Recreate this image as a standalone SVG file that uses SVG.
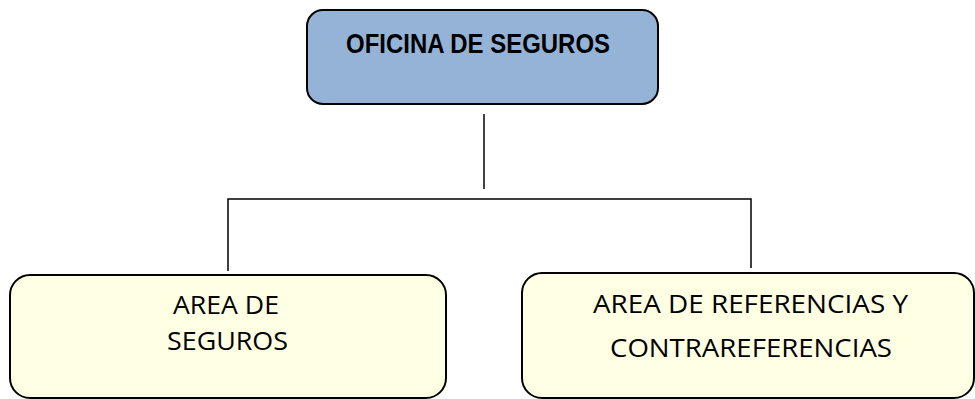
<svg xmlns="http://www.w3.org/2000/svg" width="975" height="399" viewBox="0 0 975 399">
  <style>
    .box { stroke: #000; stroke-width: 2; }
    .top { fill: #95B3D7; }
    .sub { fill: #FFFFE3; }
    .t1 { font-family: "Liberation Sans", Arial, sans-serif; font-weight: bold; font-size: 28px; fill: #000; }
    .t2 { font-family: "Open Sans", "Liberation Sans", sans-serif; font-size: 25.5px; fill: #000; }
    .conn { stroke: #000; stroke-width: 1.5; fill: none; }
  </style>
  <rect width="975" height="399" fill="#fff"/>
  <g id="connectors">
    <line class="conn" x1="484" y1="114" x2="484" y2="189"/>
    <polyline class="conn" points="228,271 228,199 751,199 751,268"/>
  </g>
  <g id="oficina">
    <rect class="box top" x="307" y="10" width="351" height="94" rx="16" ry="16"/>
    <text class="t1" x="478" y="53" text-anchor="middle" textLength="264" lengthAdjust="spacingAndGlyphs">OFICINA DE SEGUROS</text>
  </g>
  <g id="area-seguros">
    <rect class="box sub" x="10" y="275" width="436" height="123" rx="20" ry="20"/>
    <text class="t2" x="226" y="314" text-anchor="middle" textLength="106" lengthAdjust="spacingAndGlyphs">AREA DE</text>
    <text class="t2" x="227.5" y="350" text-anchor="middle" textLength="121" lengthAdjust="spacingAndGlyphs">SEGUROS</text>
  </g>
  <g id="area-referencias">
    <rect class="box sub" x="522" y="273" width="452" height="125" rx="20" ry="20"/>
    <text class="t2" x="750.5" y="313" text-anchor="middle" textLength="315" lengthAdjust="spacingAndGlyphs">AREA DE REFERENCIAS Y</text>
    <text class="t2" x="751" y="357" text-anchor="middle" textLength="282" lengthAdjust="spacingAndGlyphs">CONTRAREFERENCIAS</text>
  </g>
</svg>
